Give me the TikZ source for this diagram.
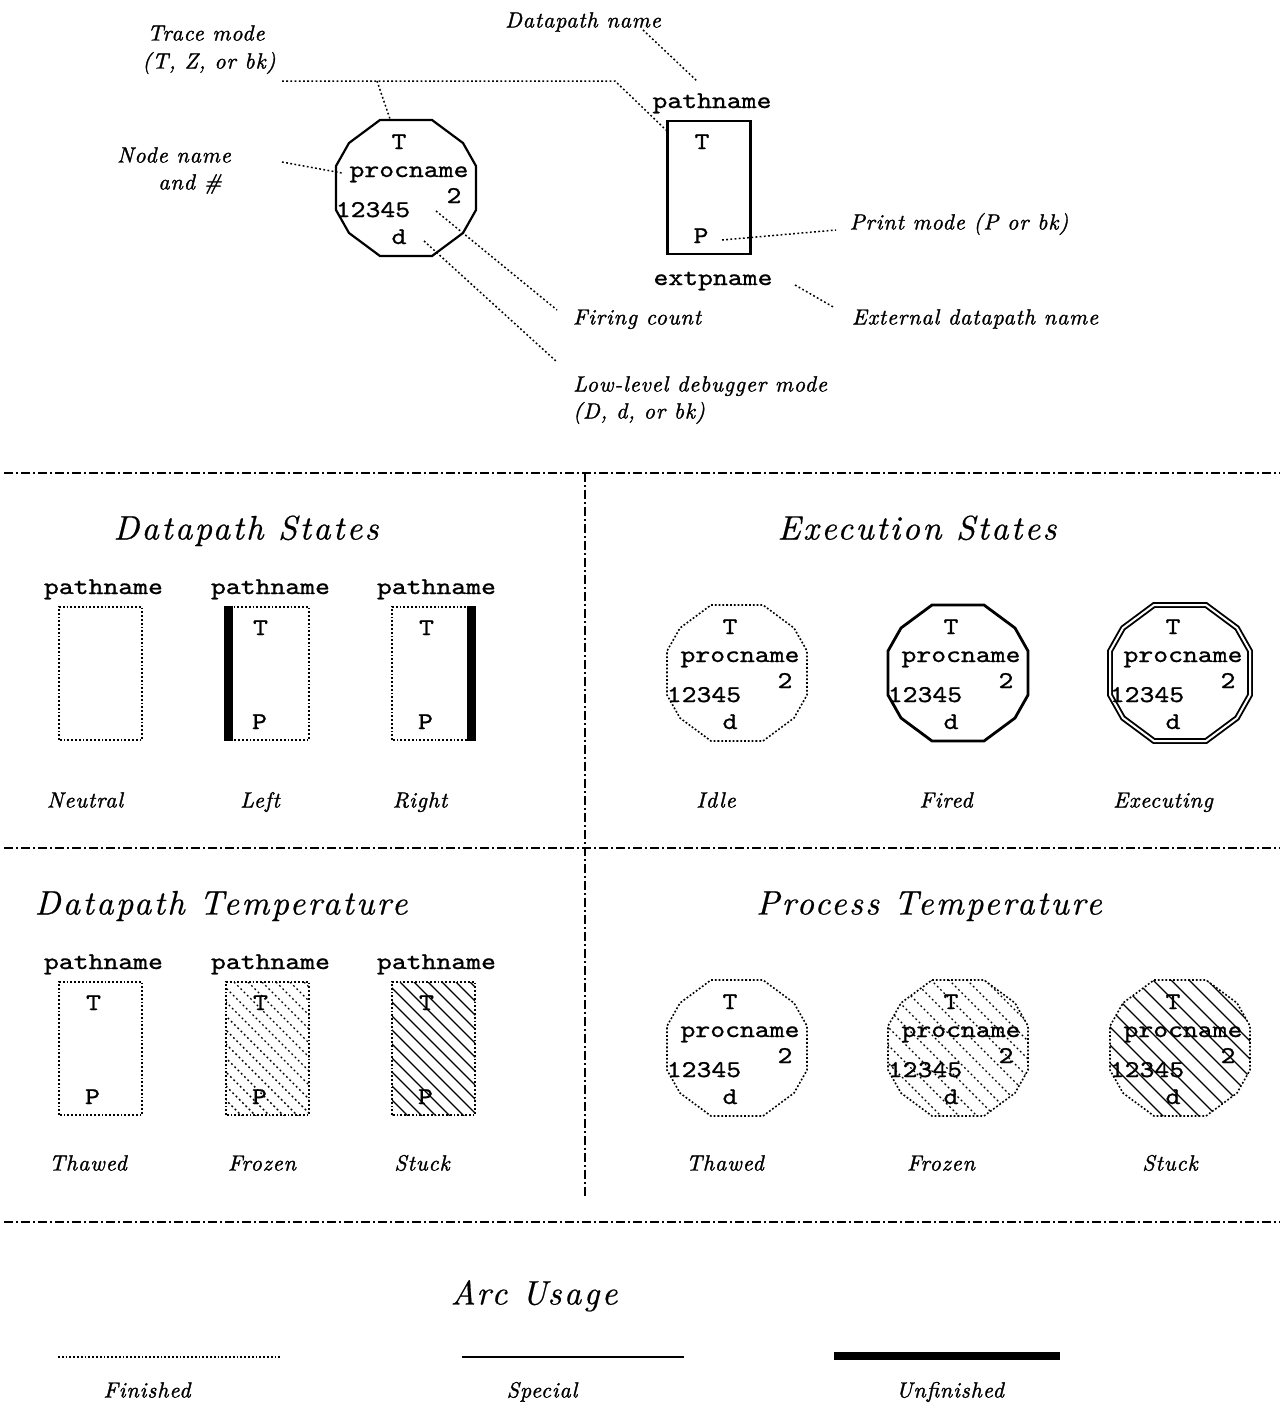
\documentclass[tikz,border=0pt]{standalone}
\usepackage{fontspec}
\newfontfamily\itf{lmroman10-italic.otf}[LetterSpace=4,FakeBold=1.3]
\newfontfamily\headf{lmroman10-italic.otf}[LetterSpace=7,FakeBold=0.6]
\newfontfamily\monof{lmmono10-regular.otf}[FakeStretch=1.18,FakeBold=1.0]
\tikzset{
  lbl/.style={font=\fontsize{22}{28}\selectfont\itf, inner sep=0pt, text height=15pt, text depth=0pt},
  head/.style={font=\fontsize{34}{40}\selectfont\headf, inner sep=0pt, text height=23pt, text depth=0pt},
  mono/.style={font=\fontsize{24}{28}\selectfont\monof, inner sep=0pt, text height=14pt, text depth=0pt},
  leader/.style={line width=1.5pt, dash pattern=on 1.8pt off 2.4pt},
  dotbox/.style={line width=1.6pt, dash pattern=on 1.8pt off 2pt},
  solidbox/.style={line width=2.2pt},
  firedbox/.style={line width=2.8pt},
  execbox/.style={line width=1.9pt, double, double distance=2pt},
  sep/.style={line width=1.5pt, dash pattern=on 9pt off 3pt on 2pt off 3pt},
  hatchdot/.style={line width=1.4pt, dash pattern=on 1.8pt off 2.8pt},
  hatchline/.style={line width=1.2pt},
  rectbox/.style={minimum width=83pt, minimum height=133pt, inner sep=0pt, outer sep=0pt},
}
\def\octpath{(-26,-68) -- (26,-68) -- (57,-45) -- (70,-22) -- (70,22) -- (57,45) -- (26,68) -- (-26,68) -- (-57,45) -- (-70,22) -- (-70,-22) -- (-57,-45) -- cycle}
% process node: name, center, outline style, hatch style (or none)
\newcommand\procnode[4]{%
  \begin{scope}[shift={#2}]
    \coordinate (#1) at (0,0);
    \ifx\relax#4\relax\else
      \begin{scope}
        \clip \octpath;
        \foreach \i in {-250,-232,...,90} \draw[#4] (\i,-75) -- ++(160,160);
      \end{scope}
    \fi
    \draw[#3] \octpath;
    \node[mono] (#1-t) at (-7,-46) {T};
    \node[mono] (#1-pn) at (3,-18) {procname};
    \node[mono] (#1-fc) at (48,8) {2};
    \node[mono] (#1-num) at (-33,22) {12345};
    \node[mono] (#1-d) at (-7,49) {d};
  \end{scope}}
% datapath box: name, cx, top, style, show T/P (1/0), hatch style (or none)
\newcommand\dpbox[6]{%
  \node[rectbox] (#1) at (#2,#3+66.5) {};
  \ifx\relax#6\relax\else
    \begin{scope}
      \clip (#1.south west) rectangle (#1.north east);
      \foreach \i in {-160,-146,...,90} \draw[#6] (#2-41.5+\i,#3) -- ++(140,140);
    \end{scope}
  \fi
  \draw[#4] (#1.south west) rectangle (#1.north east);
  \node[mono] (#1-name) at (#2+3,#3-20) {pathname};
  \ifnum#5=1
    \node[mono] (#1-t) at (#2-7,#3+21) {T};
    \node[mono] (#1-p) at (#2-8,#3+115) {P};
  \fi}
\begin{document}
\begin{tikzpicture}[x=1pt,y=-1pt]
\useasboundingbox (0,0) rectangle (1282,1416);
\fill[white] (0,0) rectangle (1282,1416);

% ---------------- top legend ----------------
\procnode{o1}{(406,188)}{solidbox}{}
\dpbox{dp0}{709}{121}{solidbox}{1}{}
\node[mono] (dp0-ext) at (713,278) {extpname};

\node[lbl] (trace1) at (206,33) {Trace mode};
\node[lbl] (trace2) at (209,61) {(T, Z, or bk)};
\node[lbl] (nn1) at (174,155) {Node name};
\node[lbl] (nn2) at (190,182) {and \#};
\node[lbl] (dpn) at (583,20) {Datapath name};
\node[lbl] (pm) at (959,222) {Print mode (P or bk)};
\node[lbl] (edn) at (975,317) {External datapath name};
\node[lbl] (fc) at (637,317) {Firing count};
\node[lbl, anchor=west] (ll1) at (573,384) {Low-level debugger mode};
\node[lbl, anchor=west] (ll2) at (573,411) {(D, d, or bk)};

\coordinate (tr-a) at (282,81);
\coordinate (tr-b) at (615,81);
\coordinate (tr-c) at (666,130);
\coordinate (tr-j) at (377,81);
\coordinate (o1-top) at (390,119);
\draw[leader] (tr-a) -- (tr-j) -- (tr-b) -- (tr-c);
\draw[leader] (tr-j) -- (o1-top);
\coordinate (nn-a) at (282,162);
\coordinate (nn-b) at (342,173);
\draw[leader] (nn-a) -- (nn-b);
\coordinate (dpn-a) at (643,30);
\coordinate (dpn-b) at (697,81);
\draw[leader] (dpn-a) -- (dpn-b);
\coordinate (pm-a) at (722,240);
\coordinate (pm-b) at (836,230);
\draw[leader] (pm-a) -- (pm-b);
\coordinate (edn-a) at (795,285);
\coordinate (edn-b) at (835,308);
\draw[leader] (edn-a) -- (edn-b);
\coordinate (fc-a) at (436,211);
\coordinate (fc-b) at (557,310);
\draw[leader] (fc-a) -- (fc-b);
\coordinate (ll-a) at (424,241);
\coordinate (ll-b) at (557,362);
\draw[leader] (ll-a) -- (ll-b);

% ---------------- separators ----------------
\draw[sep] (4,473) -- (1280,473);
\draw[sep] (4,848) -- (1280,848);
\draw[sep] (4,1222) -- (1280,1222);
\draw[sep] (585,473) -- (585,1197);

% ---------------- Datapath States ----------------
\node[head] (h1) at (246,528) {Datapath States};
\dpbox{dsn}{100.5}{607}{dotbox}{0}{}
\dpbox{dsl}{267.5}{607}{dotbox}{1}{}
\dpbox{dsr}{433.5}{607}{dotbox}{1}{}
\draw[line width=9pt] ([xshift=2.5pt,yshift=1pt]dsl.north west) -- ([xshift=2.5pt,yshift=-1pt]dsl.south west);
\draw[line width=9pt] ([xshift=-4pt,yshift=1pt]dsr.north east) -- ([xshift=-4pt,yshift=-1pt]dsr.south east);
\node[lbl] (l-neutral) at (85,800) {Neutral};
\node[lbl] (l-left) at (260,800) {Left};
\node[lbl] (l-right) at (420,800) {Right};

% ---------------- Execution States ----------------
\node[head] (h2) at (917,528) {Execution States};
\procnode{ei}{(737,673)}{dotbox}{}
\procnode{ef}{(958,673)}{firedbox}{}
\procnode{ee}{(1180,673)}{execbox}{}
\node[lbl] (l-idle) at (716,800) {Idle};
\node[lbl] (l-fired) at (946,800) {Fired};
\node[lbl] (l-exec) at (1163,800) {Executing};

% ---------------- Datapath Temperature ----------------
\node[head] (h3) at (221,903) {Datapath Temperature};
\dpbox{dtt}{100.5}{982}{dotbox}{1}{}
\dpbox{dtf}{267.5}{982}{dotbox}{1}{hatchdot}
\dpbox{dts}{433.5}{982}{dotbox}{1}{hatchline}
\node[lbl] (l-dthaw) at (88,1163) {Thawed};
\node[lbl] (l-dfroz) at (262,1163) {Frozen};
\node[lbl] (l-dstuck) at (422,1163) {Stuck};

% ---------------- Process Temperature ----------------
\node[head] (h4) at (929,903) {Process Temperature};
\procnode{pt}{(737,1048)}{dotbox}{}
\procnode{pf}{(958,1048)}{dotbox}{hatchdot}
\procnode{ps}{(1180,1048)}{dotbox}{hatchline}
\node[lbl] (l-pthaw) at (725,1163) {Thawed};
\node[lbl] (l-pfroz) at (941,1163) {Frozen};
\node[lbl] (l-pstuck) at (1170,1163) {Stuck};

% ---------------- Arc Usage ----------------
\node[head] (h5) at (534,1293) {Arc Usage};
\coordinate (fin-a) at (58,1357);
\coordinate (fin-b) at (282,1357);
\draw[dotbox] (fin-a) -- (fin-b);
\coordinate (spe-a) at (462,1357);
\coordinate (spe-b) at (684,1357);
\draw[line width=1.8pt] (spe-a) -- (spe-b);
\coordinate (unf-a) at (834,1356);
\coordinate (unf-b) at (1060,1356);
\draw[line width=8pt] (unf-a) -- (unf-b);
\node[lbl] (l-fin) at (147,1390) {Finished};
\node[lbl] (l-spe) at (542,1390) {Special};
\node[lbl] (l-unf) at (950,1390) {Unfinished};
\end{tikzpicture}
\end{document}
